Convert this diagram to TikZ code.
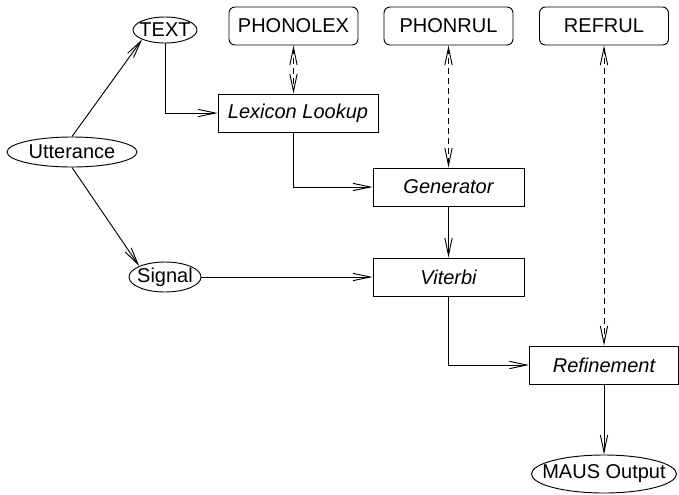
\documentclass[tikz,border=0pt]{standalone}
\usepackage{fontspec}
\setmainfont{Liberation Sans}
\usetikzlibrary{arrows.meta,positioning,calc,shapes.geometric}

\newcommand{\labelsize}{\fontsize{15}{17}\selectfont}

\tikzset{
  flow/.style={draw=black, line width=0.7pt, -{Straight Barb[length=13pt,width=5.5pt]}},
  lookup/.style={draw=black, line width=0.7pt, dash pattern=on 4.5pt off 3pt,
    {Straight Barb[length=13pt,width=5.5pt]}-{Straight Barb[length=13pt,width=5.5pt]}},
  rule/.style={draw, rounded corners=4.5pt, minimum width=96.75pt, minimum height=28.5pt, inner sep=0pt},
  stage/.style={draw, minimum height=28.5pt, inner sep=0pt, font=\labelsize\itshape},
  oval/.style={draw, ellipse, inner sep=0pt},
}

\begin{document}
\begin{tikzpicture}[x=0.75pt, y=-0.75pt, font=\labelsize, line width=0.7pt]
    \useasboundingbox (0,0) rectangle (679,494);
    % Inputs
    \node[oval, minimum width=97.5pt, minimum height=22.5pt] (utt) at (72,152) {\makebox[0pt]{Utterance}};
    \node[oval, minimum width=48pt, minimum height=19.5pt] (text) at (165,30) {\makebox[0pt]{TEXT}};
    \node[oval, minimum width=54pt, minimum height=22.5pt] (sig) at (165,277) {\makebox[0pt]{Signal}};
    % Knowledge sources
    \node[rule] (phonolex) at (293.5,26) {PHONOLEX};
    \node[rule] (phonrul) at (448.5,26) {PHONRUL};
    \node[rule] (refrul) at (604,26) {REFRUL};
    % Processing stages
    \node[stage, minimum width=120pt] (lex) at (298,113) {Lexicon Lookup};
    \node[stage, minimum width=113.25pt] (gen) at (448.5,187) {Generator};
    \node[stage, minimum width=113.25pt] (vit) at (448.5,277) {Viterbi};
    \node[stage, minimum width=111.75pt] (ref) at (604,365) {Refinement};
    \node[oval, minimum width=108.75pt, minimum height=28.5pt] (maus) at (604,474) {\makebox[0pt]{MAUS Output}};
    % Connections
    \draw[flow] (utt.north) -- (text.south west);
    \draw[flow] (utt.south) -- (sig.north west);
    \draw[flow] (text.south) |- (lex.west);
    \draw[lookup] (phonolex.south) -- (phonolex.south |- lex.north);
    \draw[flow] (lex.south -| phonolex.south) |- (gen.west);
    \draw[lookup] (phonrul.south) -- (gen.north);
    \draw[flow] (gen.south) -- (vit.north);
    \draw[flow] (sig.east) -- (vit.west);
    \draw[flow] (vit.south) |- (ref.west);
    \draw[lookup] (refrul.south) -- (ref.north);
    \draw[flow] (ref.south) -- (maus.north);
\end{tikzpicture}
\end{document}
